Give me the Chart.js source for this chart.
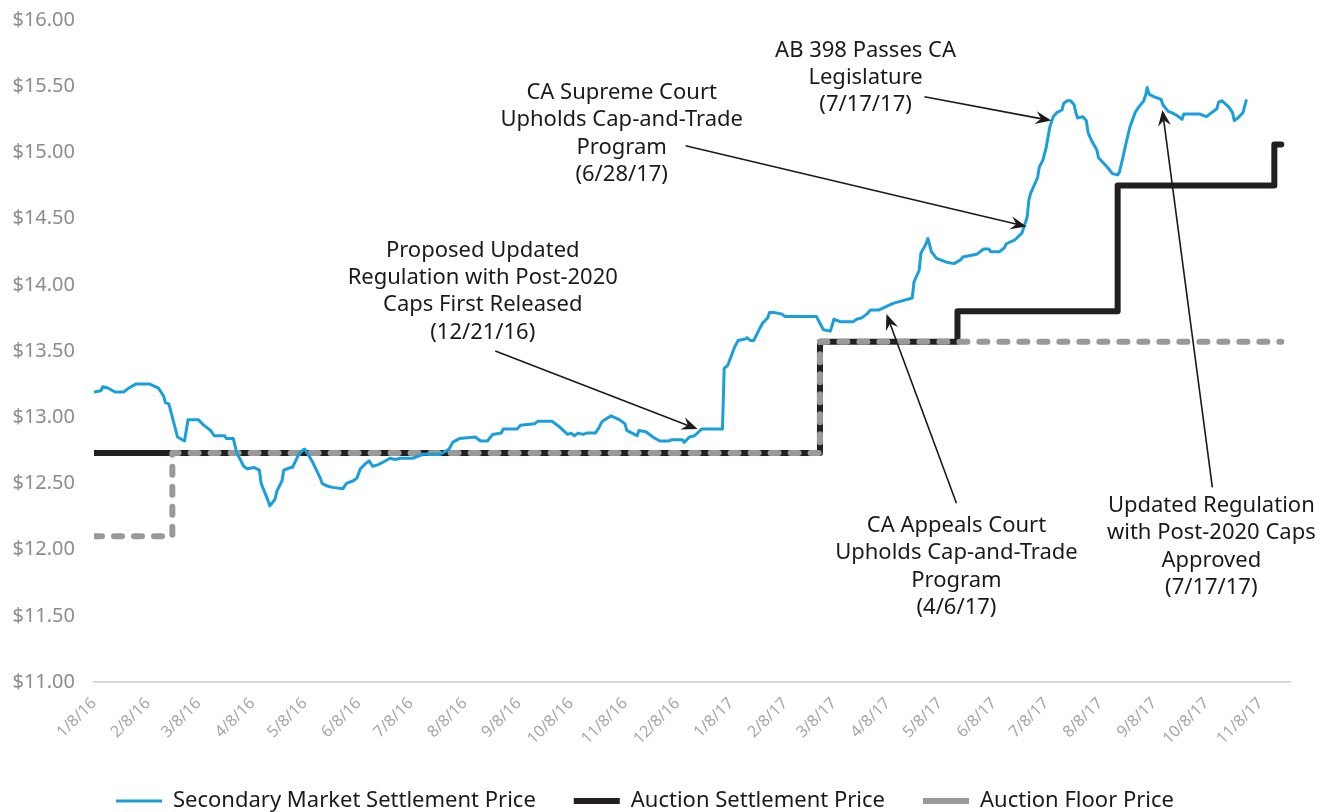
<!DOCTYPE html>
<html>
<head>
<meta charset="utf-8">
<title>Cap-and-Trade Allowance Prices</title>
<script src="https://cdn.jsdelivr.net/npm/chart.js@4.4.1/dist/chart.umd.min.js"></script>
<style>
  html, body { margin: 0; padding: 0; background: #fff; overflow: hidden; }
  #wrap { width: 1332px; height: 822px; }
</style>
</head>
<body>
<div id="wrap"><canvas id="priceChart" width="1332" height="822"></canvas></div>
<script>
// days are counted from 1/8/16
var tickLabels = ["1/8/16","2/8/16","3/8/16","4/8/16","5/8/16","6/8/16","7/8/16","8/8/16","9/8/16","10/8/16","11/8/16","12/8/16",
                  "1/8/17","2/8/17","3/8/17","4/8/17","5/8/17","6/8/17","7/8/17","8/8/17","9/8/17","10/8/17","11/8/17"];

var secondaryDays = [0,4,5,8,12,17,20,24,32,37,40,41,43,48,52,54,60,63,67,69,75,76,80,82,86,88,92,95,96,100,101,104,105,108,109,113,114,118,121,123,126,130,131,134,137,143,145,149,151,153,156,158,160,163,166,170,173,176,183,189,199,
  204,206,210,219,222,226,229,234,235,243,245,253,255,263,268,272,274,276,278,281,283,288,290,292,297,302,305,306,309,312,313,317,321,325,330,332,338,339,342,345,349,361,
  362,364,368,370,374,375,377,379,382,384,387,388,391,395,397,415,417,419,423,425,429,436,438,441,444,446,451,459,470,
  471,474,475,478,479,481,484,490,494,498,499,507,511,514,515,520,523,524,529,533,534,536,537,538,540,542,543,545,547,549,551,553,556,557,559,561,563,564,565,568,570,571,573,576,577,582,585,588,589,591,593,595,598,600,603,604,605,606,609,613,614,617,619,622,625,626,635,639,642,645,646,648,652,654,655,657,660,662];
var secondaryPrices = [13.19,13.20,13.23,13.22,13.19,13.19,13.22,13.25,13.25,13.22,13.16,13.11,13.10,12.85,12.82,12.98,12.98,12.94,12.90,12.86,12.86,12.84,12.84,12.73,12.63,12.61,12.62,12.60,12.50,12.37,12.33,12.38,12.44,12.52,12.60,12.62,12.62,12.73,12.76,12.72,12.65,12.54,12.50,12.48,12.47,12.46,12.50,12.52,12.54,12.61,12.65,12.67,12.63,12.64,12.66,12.69,12.68,12.69,12.69,12.72,12.72,
  12.76,12.81,12.84,12.85,12.82,12.82,12.87,12.88,12.91,12.91,12.94,12.95,12.97,12.97,12.92,12.87,12.88,12.86,12.88,12.87,12.88,12.88,12.92,12.97,13.01,12.98,12.95,12.90,12.88,12.86,12.90,12.89,12.85,12.82,12.82,12.83,12.83,12.81,12.85,12.86,12.91,12.91,
  13.37,13.39,13.53,13.58,13.59,13.60,13.58,13.58,13.66,13.71,13.75,13.79,13.79,13.78,13.76,13.76,13.71,13.66,13.65,13.74,13.72,13.72,13.74,13.75,13.78,13.81,13.81,13.86,13.90,
  14.02,14.11,14.24,14.31,14.35,14.25,14.20,14.17,14.16,14.19,14.21,14.23,14.27,14.27,14.25,14.25,14.28,14.31,14.34,14.39,14.43,14.51,14.64,14.69,14.75,14.81,14.89,14.94,15.04,15.19,15.27,15.30,15.32,15.37,15.39,15.39,15.36,15.30,15.26,15.27,15.24,15.15,15.09,15.02,14.96,14.89,14.84,14.83,14.85,14.96,15.08,15.19,15.30,15.34,15.39,15.43,15.49,15.44,15.42,15.40,15.36,15.31,15.30,15.28,15.25,15.29,15.29,15.27,15.30,15.33,15.38,15.39,15.34,15.30,15.24,15.26,15.30,15.40];

var auctionDays   = [0, 417, 496, 588, 678, 682];
var auctionPrices = [12.73, 13.57, 13.80, 14.75, 15.06, 15.06];

var floorDays   = [0, 45, 417, 682];
var floorPrices = [12.10, 12.73, 13.57, 13.57];

var yTicks = [11, 11.5, 12, 12.5, 13, 13.5, 14, 14.5, 15, 15.5, 16];

// x positions of the month ticks, in days since 1/8/16
var startDate = new Date(2016, 0, 8);
var tickDays = tickLabels.map(function (lbl, i) {
  var d = new Date(2016, i, 8);
  return Math.round((d - startDate) / 86400000);
});

function toPoints(xs, ys) {
  return xs.map(function (x, i) { return { x: x, y: ys[i] }; });
}

var notes = [
  { lines: ["Proposed Updated", "Regulation with Post-2020", "Caps First Released", "(12/21/16)"],
    at: [223.3, 14.26], from: [230.5, 13.50], to: [346.7, 12.91] },
  { lines: ["CA Supreme Court", "Upholds Cap-and-Trade", "Program", "(6/28/17)"],
    at: [303.1, 15.45], from: [339.8, 15.05], to: [535.6, 14.44] },
  { lines: ["AB 398 Passes CA", "Legislature", "(7/17/17)"],
    at: [443.2, 15.77], from: [477, 15.42], to: [549.9, 15.24] },
  { lines: ["CA Appeals Court", "Upholds Cap-and-Trade", "Program", "(4/6/17)"],
    at: [495.4, 12.18], from: [495.4, 12.35], to: [455.2, 13.78] },
  { lines: ["Updated Regulation", "with Post-2020 Caps", "Approved", "(7/17/17)"],
    at: [641.8, 12.33], from: [642.4, 12.47], to: [613.7, 15.32] }
];

var FONT = "'Noto Sans', 'Open Sans', sans-serif";

function drawArrow(ctx, x1, y1, x2, y2) {
  var a = Math.atan2(y2 - y1, x2 - x1);
  var L = 16, W = 6.5;
  ctx.beginPath();
  ctx.moveTo(x1, y1);
  ctx.lineTo(x2 - Math.cos(a) * L * 0.6, y2 - Math.sin(a) * L * 0.6);
  ctx.stroke();
  ctx.save();
  ctx.translate(x2, y2);
  ctx.rotate(a);
  ctx.beginPath();
  ctx.moveTo(0, 0);
  ctx.lineTo(-L, -W);
  ctx.lineTo(-L * 0.65, 0);
  ctx.lineTo(-L, W);
  ctx.closePath();
  ctx.fill();
  ctx.restore();
}

var callouts = {
  id: "callouts",
  afterDatasetsDraw: function (chart) {
    var ctx = chart.ctx;
    var xs = chart.scales.x, ys = chart.scales.y;
    ctx.save();
    ctx.fillStyle = "#1a1a1a";
    ctx.strokeStyle = "#1a1a1a";
    ctx.lineWidth = 1.6;
    ctx.font = "22px " + FONT;
    ctx.textAlign = "center";
    ctx.textBaseline = "middle";
    notes.forEach(function (n) {
      var cx = xs.getPixelForValue(n.at[0]);
      var cy = ys.getPixelForValue(n.at[1]);
      n.lines.forEach(function (line, i) {
        ctx.fillText(line, cx, cy + i * 27.3);
      });
      drawArrow(ctx,
        xs.getPixelForValue(n.from[0]), ys.getPixelForValue(n.from[1]),
        xs.getPixelForValue(n.to[0]), ys.getPixelForValue(n.to[1]));
    });
    ctx.restore();
  }
};

new Chart(document.getElementById("priceChart"), {
  type: "line",
  data: {
    datasets: [
      {
        label: "Secondary Market Settlement Price",
        data: toPoints(secondaryDays, secondaryPrices),
        borderColor: "#1b9fda",
        backgroundColor: "#1b9fda",
        borderWidth: 3,
        borderJoinStyle: "round",
        pointRadius: 0,
        tension: 0,
        order: 0
      },
      {
        label: "Auction Settlement Price",
        data: toPoints(auctionDays, auctionPrices),
        borderColor: "#231f20",
        backgroundColor: "#231f20",
        borderWidth: 6,
        borderCapStyle: "round",
        borderJoinStyle: "round",
        stepped: "before",
        pointRadius: 0,
        order: 2
      },
      {
        label: "Auction Floor Price",
        data: toPoints(floorDays, floorPrices),
        borderColor: "#999999",
        backgroundColor: "#999999",
        borderWidth: 6,
        borderDash: [8, 12],
        borderCapStyle: "round",
        borderJoinStyle: "round",
        stepped: "before",
        pointRadius: 0,
        order: 1
      }
    ]
  },
  options: {
    responsive: false,
    animation: false,
    events: [],
    layout: { padding: { left: 0, right: 42, top: 20, bottom: 0 } },
    plugins: {
      tooltip: { enabled: false },
      legend: {
        position: "bottom",
        labels: {
          usePointStyle: true,
          pointStyle: "line",
          pointStyleWidth: 46,
          padding: 38,
          color: "#1a1a1a",
          font: { family: FONT, size: 22 },
          sort: function (a, b) { return a.datasetIndex - b.datasetIndex; }
        }
      }
    },
    scales: {
      x: {
        type: "linear",
        min: 0,
        max: 687,
        grid: { display: false, drawTicks: false },
        border: { display: true, color: "#d9d9d9", width: 2 },
        afterBuildTicks: function (axis) {
          axis.ticks = tickDays.map(function (d) { return { value: d }; });
        },
        afterFit: function (axis) {
          axis.height = 70;
          axis.paddingLeft = 0;
          axis.paddingRight = 0;
        },
        ticks: {
          autoSkip: false,
          minRotation: 45,
          maxRotation: 45,
          padding: 12,
          color: "#a6a6a6",
          font: { family: FONT, size: 16 },
          callback: function (v, i) { return tickLabels[i]; }
        }
      },
      y: {
        min: 11,
        max: 16,
        grid: { display: false, drawTicks: false },
        border: { display: false },
        afterBuildTicks: function (axis) {
          axis.ticks = yTicks.map(function (v) { return { value: v }; });
        },
        afterFit: function (axis) {
          axis.width = 94;
          axis.paddingTop = 0;
          axis.paddingBottom = 0;
        },
        ticks: {
          padding: 19,
          color: "#8c8c8c",
          font: { family: FONT, size: 20 },
          callback: function (v) { return "$" + Number(v).toFixed(2); }
        }
      }
    }
  },
  plugins: [callouts]
});
</script>
</body>
</html>
